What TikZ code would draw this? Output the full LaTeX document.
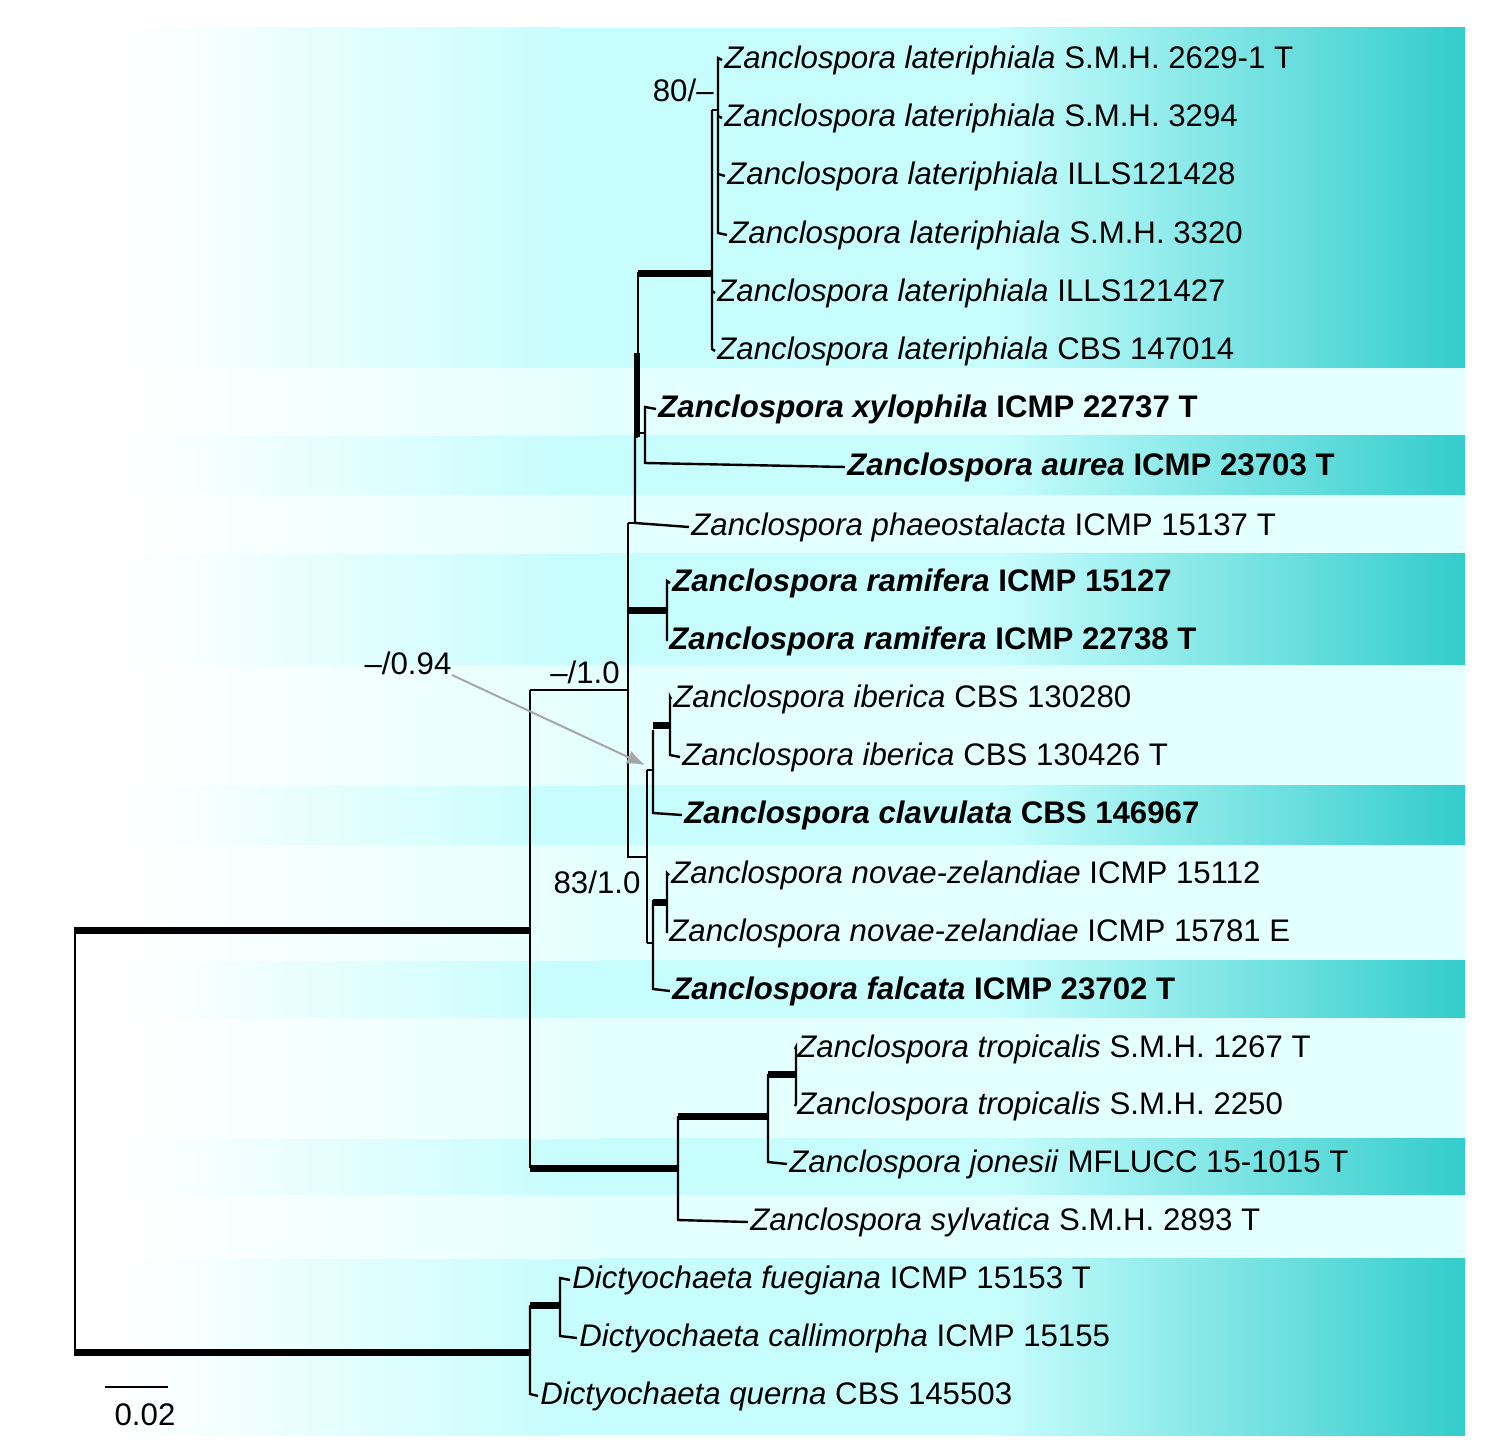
\documentclass[tikz,border=0pt]{standalone}
\usepackage{fontspec}
\setmainfont{Liberation Sans}
\usetikzlibrary{arrows.meta}
\begin{document}
\begin{tikzpicture}[x=0.5pt,y=-0.5pt,
  br/.style={line width=1.2pt},
  tk/.style={line width=3.5pt},
  tip/.style={anchor=west,inner sep=1pt,yshift=-1pt,font=\fontsize{15.6pt}{17pt}\selectfont},
  lab/.style={inner sep=0pt,font=\fontsize{15.6pt}{17pt}\selectfont}]
\definecolor{cyL}{HTML}{C8FDFD}
\definecolor{cyP}{HTML}{E4FFFF}
\definecolor{tl}{HTML}{33CCCC}
\useasboundingbox (0,0) rectangle (1511,1450);
% bands
\foreach \a/\b in {28/368,435/495,553/665,785/845,960/1018,1138/1195,1258/1435}{
  \shade[left color=white,right color=cyL] (130,\a) rectangle (560,\b);
  \fill[cyL] (559,\a) rectangle (1001,\b);
  \shade[left color=cyL,right color=tl] (1000,\a) rectangle (1465,\b);}
\foreach \a/\b in {368/435,495/553,665/785,845/960,1018/1138,1195/1258}{
  \shade[left color=white,right color=cyP] (130,\a) rectangle (600,\b);
  \fill[cyP] (599,\a) rectangle (1465,\b);}
% tips
\node[tip] (t1) at (722,58) {\textit{Zanclospora lateriphiala} S.M.H. 2629-1 T};
\node[tip] (t2) at (722,116) {\textit{Zanclospora lateriphiala} S.M.H. 3294};
\node[tip] (t3) at (725,174) {\textit{Zanclospora lateriphiala} ILLS121428};
\node[tip] (t4) at (727,233) {\textit{Zanclospora lateriphiala} S.M.H. 3320};
\node[tip] (t5) at (715,291) {\textit{Zanclospora lateriphiala} ILLS121427};
\node[tip] (t6) at (715,349) {\textit{Zanclospora lateriphiala} CBS 147014};
\node[tip] (t7) at (656,407) {\textbf{\textit{Zanclospora xylophila} ICMP 22737 T}};
\node[tip] (t8) at (845,465) {\textbf{\textit{Zanclospora aurea} ICMP 23703 T}};
\node[tip] (t9) at (689,525) {\textit{Zanclospora phaeostalacta} ICMP 15137 T};
\node[tip] (t10) at (670,581) {\textbf{\textit{Zanclospora ramifera} ICMP 15127}};
\node[tip] (t11) at (667,639) {\textbf{\textit{Zanclospora ramifera} ICMP 22738 T}};
\node[tip] (t12) at (671,697) {\textit{Zanclospora iberica} CBS 130280};
\node[tip] (t13) at (680,755) {\textit{Zanclospora iberica} CBS 130426 T};
\node[tip] (t14) at (682,813) {\textbf{\textit{Zanclospora clavulata} CBS 146967}};
\node[tip] (t15) at (669,873) {\textit{Zanclospora novae-zelandiae} ICMP 15112};
\node[tip] (t16) at (667,931) {\textit{Zanclospora novae-zelandiae} ICMP 15781 E};
\node[tip] (t17) at (670,989) {\textbf{\textit{Zanclospora falcata} ICMP 23702 T}};
\node[tip] (t18) at (795,1047) {\textit{Zanclospora tropicalis} S.M.H. 1267 T};
\node[tip] (t19) at (795,1104) {\textit{Zanclospora tropicalis} S.M.H. 2250};
\node[tip] (t20) at (787,1162) {\textit{Zanclospora jonesii} MFLUCC 15-1015 T};
\node[tip] (t21) at (748,1220) {\textit{Zanclospora sylvatica} S.M.H. 2893 T};
\node[tip] (t22) at (570,1278) {\textit{Dictyochaeta fuegiana} ICMP 15153 T};
\node[tip] (t23) at (577,1336) {\textit{Dictyochaeta callimorpha} ICMP 15155};
\node[tip] (t24) at (538,1394) {\textit{Dictyochaeta querna} CBS 145503};
% tree
\draw[br] (75,930) -- (75,1352);
\draw[tk] (74,930) -- (530,930);
\draw[tk] (74,1352) -- (530,1352);
% Dictyochaeta
\draw[br] (530,1305) -- (530,1394) -- (t24.west);
\draw[tk] (530,1305) -- (560,1305);
\draw[br] (t22.west) -- (560,1278) -- (560,1336) -- (t23.west);
% Zanclospora
\draw[br] (530,690) -- (530,1168);
\draw[br] (530,690) -- (628,690);
\draw[tk] (530,1168) -- (678,1168);
\draw[br] (678,1116) -- (678,1220) -- (t21.west);
\draw[tk] (678,1116) -- (768,1116);
\draw[br] (768,1074) -- (768,1162) -- (t20.west);
\draw[tk] (768,1074) -- (796,1074);
\draw[br] (t18.west) -- (796,1047) -- (796,1104) -- (t19.west);
% upper ladder
\draw[br] (628,523) -- (628,857) -- (647,857);
\draw[br] (628,523) -- (635,523);
\draw[br] (635,437) -- (635,523) -- (t9.west);
\draw[br] (635,437) -- (638,437);
\draw[br] (638,272) -- (638,437);
\draw[line width=3pt] (637,353) -- (637,437);
\draw[tk] (638,273) -- (712,273);
\draw[br] (712,110) -- (712,349) -- (t6.west);
\draw[br] (712,291) -- (t5.west);
\draw[br] (712,110) -- (718,110);
\draw[br] (t1.west) -- (718,58) -- (718,233) -- (t4.west);
\draw[br] (718,116) -- (t2.west);
\draw[br] (718,174) -- (t3.west);
\draw[br] (638,433) -- (645,433);
\draw[br] (t7.west) -- (645,407) -- (645,463) -- (t8.west);
\draw[tk] (629,610) -- (667,610);
\draw[br] (t10.west) -- (667,581) -- (667,639) -- (t11.west);
% lower part
\draw[br] (647,770) -- (647,943);
\draw[br] (647,770) -- (653,770);
\draw[br] (653,730) -- (653,813) -- (t14.west);
\draw[tk] (653,725) -- (670,725);
\draw[br] (t12.west) -- (670,697) -- (670,755) -- (t13.west);
\draw[br] (647,943) -- (653,943);
\draw[br] (653,900) -- (653,989) -- (t17.west);
\draw[tk] (653,902) -- (667,902);
\draw[br] (t15.west) -- (667,873) -- (667,931) -- (t16.west);
% support labels
\node[lab,anchor=east] (s1) at (714,90) {80/–};
\node[lab] (s2) at (585,672) {–/1.0};
\node[lab] (s3) at (408,663) {–/0.94};
\node[lab] (s4) at (597,882) {83/1.0};
\coordinate (ar) at (645,765);
\draw[gray!70,line width=1pt,-{Latex[length=9pt,width=7pt]}] (452,675) -- (ar);
% scale
\draw[br] (105,1387) -- (168,1387);
\node[lab] (sc) at (145,1415) {0.02};
\end{tikzpicture}
\end{document}
